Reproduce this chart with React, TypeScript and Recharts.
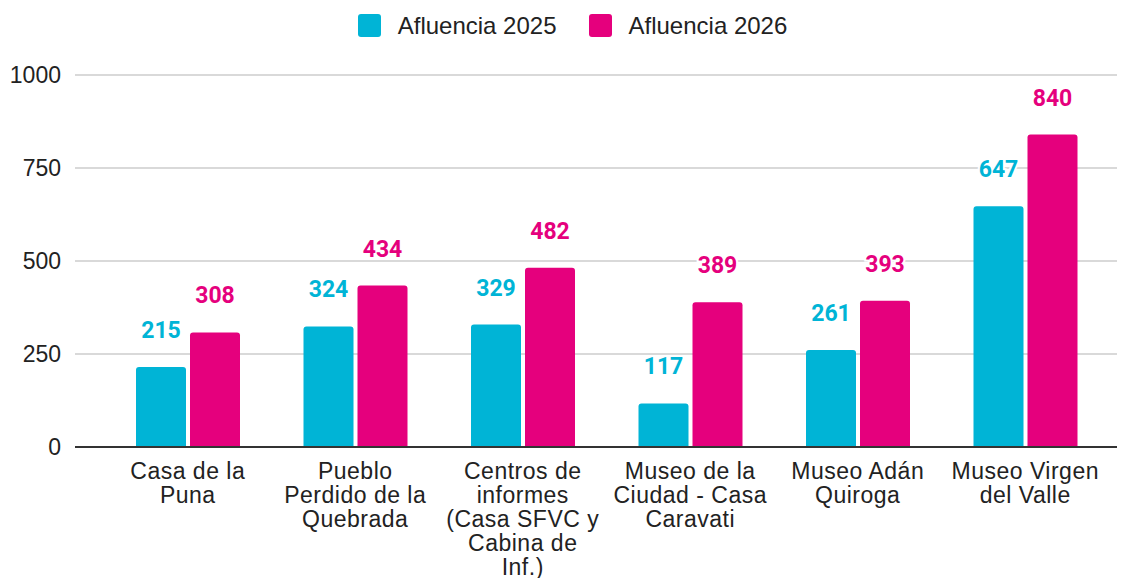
import React from "react";
import { BarChart, Bar, XAxis, YAxis, CartesianGrid, LabelList } from "recharts";

const categories = [
  "Casa de la\nPuna",
  "Pueblo\nPerdido de la\nQuebrada",
  "Centros de\ninformes\n(Casa SFVC y\nCabina de\nInf.)",
  "Museo de la\nCiudad - Casa\nCaravati",
  "Museo Adán\nQuiroga",
  "Museo Virgen\ndel Valle",
];
const afluencia2025 = [215, 324, 329, 117, 261, 647];
const afluencia2026 = [308, 434, 482, 389, 393, 840];
const yTicks = [0, 250, 500, 750, 1000];
const seriesNames = ["Afluencia 2025", "Afluencia 2026"];

const C1 = "#00B4D6";
const C2 = "#E5007D";
const AXIS_FONT = "'Liberation Sans', Arial, sans-serif";

const data = categories.map((c, i) => ({
  name: c,
  a2025: afluencia2025[i],
  a2026: afluencia2026[i],
}));

const CategoryTick = (props: any) => {
  const { x, y, payload } = props;
  const lines = String(payload.value).split("\n");
  return (
    <text
      x={x}
      y={y}
      textAnchor="middle"
      fill="#222"
      fontSize={23}
      letterSpacing={0.5}
      fontFamily={AXIS_FONT}
    >
      {lines.map((l, i) => (
        <tspan key={i} x={x} dy={i === 0 ? 32 : 24}>
          {l}
        </tspan>
      ))}
    </text>
  );
};

const labelStyle = (color: string) => ({
  fill: color,
  fontSize: 23,
  fontWeight: 700,
  fontFamily: "Roboto, sans-serif",
  stroke: "#fff",
  strokeWidth: 4,
  paintOrder: "stroke" as const,
});

export default function App() {
  return (
    <div style={{ position: "absolute", left: 0, top: 0, width: 1131, height: 578, background: "#fff" }}>
      <div
        style={{
          position: "absolute",
          top: 14,
          left: 0,
          width: 1131,
          display: "flex",
          justifyContent: "center",
          alignItems: "center",
          fontFamily: AXIS_FONT,
          fontSize: 24,
          color: "#222",
          paddingLeft: 14,
          boxSizing: "border-box",
        }}
      >
        {seriesNames.map((n, i) => (
          <div key={n} style={{ display: "flex", alignItems: "center", marginRight: i === 0 ? 32 : 0 }}>
            <div
              style={{
                width: 23,
                height: 23,
                borderRadius: 3,
                background: i === 0 ? C1 : C2,
                marginRight: 17,
              }}
            />
            <span style={{ lineHeight: "23px" }}>{n}</span>
          </div>
        ))}
      </div>
      <BarChart
        width={1131}
        height={578}
        data={data}
        margin={{ top: 75, right: 14, bottom: 0, left: 0 }}
        barGap={4}
        barSize={50}
      >
        <CartesianGrid vertical={false} stroke="#cccccc" strokeWidth={1.5} />
        <XAxis
          dataKey="name"
          height={131}
          interval={0}
          tickLine={false}
          tickSize={0}
          tickMargin={0}
          axisLine={{ stroke: "#333", strokeWidth: 2 }}
          padding={{ left: 29, right: 8 }}
          tick={<CategoryTick />}
        />
        <YAxis
          width={75}
          domain={[0, 1000]}
          ticks={yTicks}
          axisLine={false}
          tickLine={false}
          tickSize={0}
          tickMargin={14}
          tick={{ fill: "#222", fontSize: 23, fontFamily: AXIS_FONT }}
        />
        <Bar dataKey="a2025" fill={C1} radius={[3, 3, 0, 0]} isAnimationActive={false}>
          <LabelList dataKey="a2025" position="top" offset={29} style={labelStyle(C1)} />
        </Bar>
        <Bar dataKey="a2026" fill={C2} radius={[3, 3, 0, 0]} isAnimationActive={false}>
          <LabelList dataKey="a2026" position="top" offset={29} style={labelStyle(C2)} />
        </Bar>
      </BarChart>
    </div>
  );
}
